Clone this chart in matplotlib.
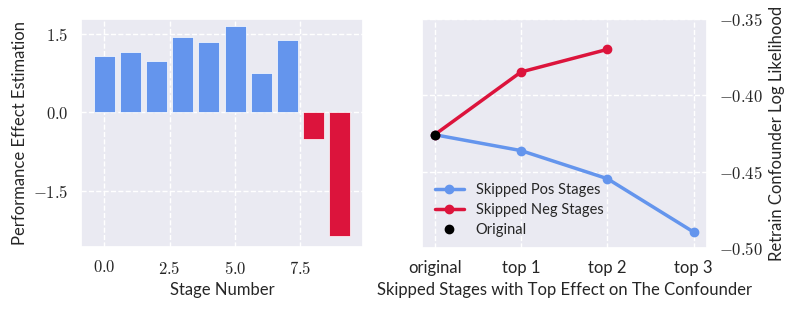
import matplotlib
matplotlib.use('Agg')
import matplotlib.pyplot as plt
import seaborn as sns
from matplotlib.ticker import FuncFormatter, FixedLocator

# dados
stages = list(range(10))
effects = [1.08, 1.15, 0.97, 1.43, 1.34, 1.64, 0.745, 1.37, -0.51, -2.37]

steps = ['original', 'top 1', 'top 2', 'top 3']
pos_ll = [-0.4258, -0.4362, -0.4546, -0.4896]
neg_ll = [-0.4258, -0.3847, -0.3699]
orig_ll = -0.4258

sns.set_theme(style='darkgrid')
plt.rcParams['font.family'] = ['Lato', 'DejaVu Sans']
plt.rcParams['mathtext.fontset'] = 'cm'
plt.rcParams['grid.linestyle'] = '--'

blue = '#6495ED'
red = '#DC143C'

fig = plt.figure(figsize=(7.98, 3.11), dpi=100)
ax1 = fig.add_axes([81/798, 1 - 247/311, (363-81)/798, (247-19)/311])
ax2 = fig.add_axes([421.7/798, 1 - 248/311, (706.7-421.7)/798, (248-19)/311])

cols = [blue if v >= 0 else red for v in effects]
ax1.bar(stages, effects, color=cols, width=0.8, edgecolor='white', linewidth=0.5)
ax1.set_ylim(-2.575, 1.78)
ax1.xaxis.set_major_locator(FixedLocator([0, 2.5, 5, 7.5]))
ax1.yaxis.set_major_locator(FixedLocator([-1.5, 0, 1.5]))
fmt1 = FuncFormatter(lambda v, p: r'$%.1f$' % v)
ax1.xaxis.set_major_formatter(fmt1)
ax1.yaxis.set_major_formatter(fmt1)
ax1.set_xlabel('Stage Number', fontsize=12)
ax1.set_ylabel('Performance Effect Estimation', fontsize=12)
ax1.tick_params(labelsize=12, length=0, pad=9)

x = list(range(len(steps)))
ax2.plot(x, pos_ll, '-o', color=blue, lw=2.5, ms=6, label='Skipped Pos Stages')
ax2.plot(x[:len(neg_ll)], neg_ll, '-o', color=red, lw=2.5, ms=6, label='Skipped Neg Stages')
ax2.plot([0], [orig_ll], 'o', color='black', ms=6, label='Original', zorder=5)
ax2.set_xticks(x)
ax2.set_xticklabels(steps)
ax2.set_ylim(-0.5, -0.35)
ax2.yaxis.set_major_locator(FixedLocator([-0.5, -0.45, -0.4, -0.35]))
ax2.yaxis.set_major_formatter(FuncFormatter(lambda v, p: r'$%.2f$' % v))
ax2.yaxis.tick_right()
ax2.yaxis.set_label_position('right')
ax2.set_xlabel('Skipped Stages with Top Effect on The Confounder', fontsize=12)
ax2.set_ylabel('Retrain Confounder Log Likelihood', fontsize=12)
ax2.tick_params(labelsize=12, length=0, pad=9)
ax2.legend(loc='lower left', frameon=False, fontsize=10.5, bbox_to_anchor=(0.0, -0.01),
           labelspacing=0.4)

plt.savefig('out.png', dpi=100)
